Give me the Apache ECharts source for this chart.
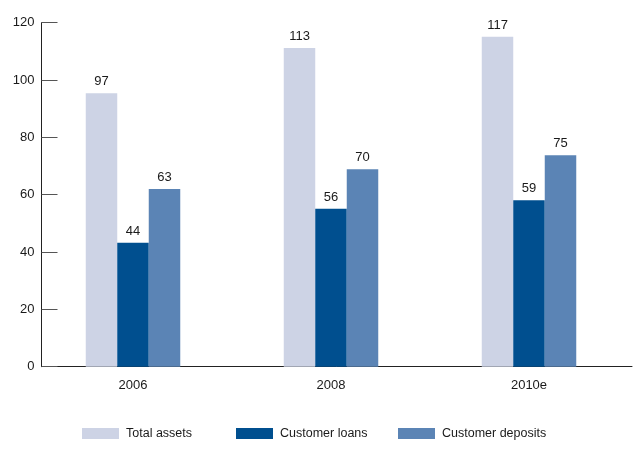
<!DOCTYPE html>
<html>
<head>
<meta charset="utf-8">
<script src="https://cdn.jsdelivr.net/npm/echarts@6/dist/echarts.min.js"></script>
<style>
html,body{margin:0;padding:0;background:#fff;}
#c{width:635px;height:457px;}
</style>
</head>
<body>
<div id="c"></div>
<script>
var categories = ['2006', '2008', '2010e'];
var totalAssets = [97, 113, 117];
var customerLoans = [44, 56, 59];
var customerDeposits = [63, 70, 75];
var yTicks = [0, 20, 40, 60, 80, 100, 120];

var FONT = '"Liberation Sans", Arial, sans-serif';
var colors = ['#CDD3E5', '#004F8F', '#5B84B5'];

var chart = echarts.init(document.getElementById('c'), null, {renderer: 'canvas'});

function barSeries(name, data, color) {
  return {
    name: name,
    type: 'bar',
    xAxisIndex: 0,
    yAxisIndex: 1,
    data: data,
    barWidth: 31.5,
    barGap: '0%',
    itemStyle: {color: color},
    label: {
      show: true,
      position: 'top',
      distance: 5,
      color: '#1a1a1a',
      fontSize: 13,
      fontFamily: FONT
    },
    emphasis: {disabled: true}
  };
}

function legendAt(left, name) {
  return {
    left: left,
    top: 427,
    data: [name],
    itemWidth: 37,
    itemHeight: 11,
    itemGap: 0,
    padding: 0,
    icon: 'rect',
    textStyle: {color: '#1a1a1a', fontSize: 12.5, fontFamily: FONT, padding: [0, 0, 0, 2]}
  };
}

chart.setOption({
  animation: false,
  backgroundColor: '#fff',
  legend: [
    legendAt(82, 'Total assets'),
    legendAt(236, 'Customer loans'),
    legendAt(398, 'Customer deposits')
  ],
  grid: [
    {left: 34, right: 7, top: 22.7, bottom: 90.3},
    {left: 41.5, right: 3, top: 22.7, bottom: 90.3}
  ],
  xAxis: [
    {
      type: 'category',
      gridIndex: 0,
      data: categories,
      axisLine: {show: false},
      axisTick: {show: false},
      axisLabel: {color: '#1a1a1a', fontSize: 13, fontFamily: FONT, margin: 12}
    },
    {
      type: 'category',
      gridIndex: 1,
      data: [''],
      axisLine: {show: true, lineStyle: {color: '#222', width: 1}},
      axisTick: {show: false},
      axisLabel: {show: false}
    }
  ],
  yAxis: [
    {
      type: 'value',
      gridIndex: 1,
      min: yTicks[0],
      max: yTicks[yTicks.length - 1],
      interval: 20,
      axisLine: {show: true, lineStyle: {color: '#222', width: 1}},
      axisTick: {show: true, inside: true, length: 16, lineStyle: {color: '#555', width: 1}},
      axisLabel: {color: '#1a1a1a', fontSize: 13, fontFamily: FONT, margin: 7},
      splitLine: {show: false}
    },
    {
      type: 'value',
      gridIndex: 0,
      min: 0,
      max: 122,
      show: false,
      splitLine: {show: false}
    }
  ],
  series: [
    barSeries('Total assets', totalAssets, colors[0]),
    barSeries('Customer loans', customerLoans, colors[1]),
    barSeries('Customer deposits', customerDeposits, colors[2])
  ]
});
</script>
</body>
</html>
